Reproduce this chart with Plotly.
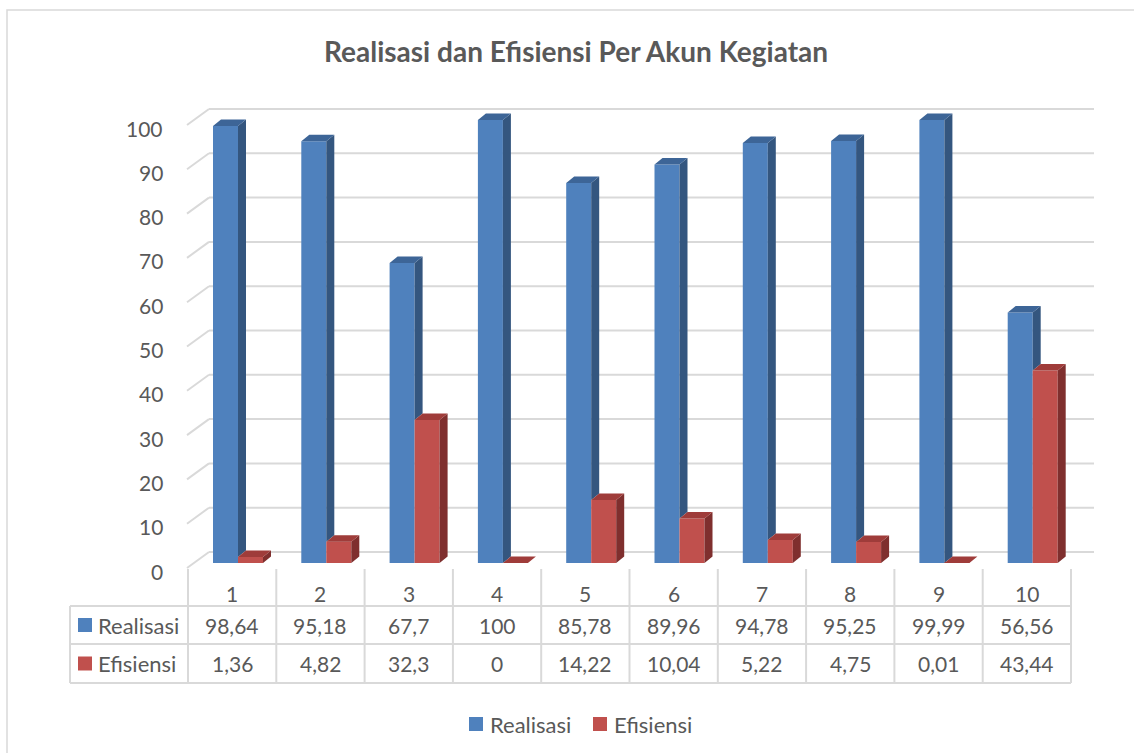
import plotly.graph_objects as go

# ---------------- data ----------------
categories = ["1", "2", "3", "4", "5", "6", "7", "8", "9", "10"]
realisasi = [98.64, 95.18, 67.7, 100, 85.78, 89.96, 94.78, 95.25, 99.99, 56.56]
efisiensi = [1.36, 4.82, 32.3, 0, 14.22, 10.04, 5.22, 4.75, 0.01, 43.44]
series_names = ["Realisasi", "Efisiensi"]
y_ticks = [0, 10, 20, 30, 40, 50, 60, 70, 80, 90, 100]
title_text = "Realisasi dan Efisiensi Per Akun Kegiatan"

# ---------------- layout constants (pixels) ----------------
W_IMG, H_IMG = 1134, 753
COL_W = 88.3      # width of one category column
COL0 = 188        # left edge of first table column
PXU = 4.43        # pixels per value unit
BASE = 563        # pixel row of value 0 at bar depth
FONT = "Lato"
TXT = "#595959"
GRID = "#d9d9d9"
NUM_SIZE = 21
LBL_SIZE = 22
TITLE_SIZE = 28

BLUE = ("#4f81bd", "#34567f", "#3d6597")   # front, side, top
RED = ("#c0504d", "#7f2f2e", "#9f3c3a")

n = len(categories)
idx = list(range(n))


def ux(px):
    """pixel x -> x data units (category index)"""
    return (px - COL0) / COL_W - 0.5


def uy(py):
    """pixel y -> value units"""
    return (BASE - py) / PXU


def PX(px):
    return px / W_IMG


def PY(py):
    return 1 - py / H_IMG


# bar geometry (in data units)
BAR_W = 25 / COL_W
BLUE_OFF = (213 - (COL0 + 0.5 * COL_W)) / COL_W
RED_OFF = BLUE_OFF + BAR_W
DX = 8 / COL_W
DY = 6.5 / PXU

fig = go.Figure()

# front faces (real bars)
for name, vals, off, col in [(series_names[0], realisasi, BLUE_OFF, BLUE),
                             (series_names[1], efisiensi, RED_OFF, RED)]:
    fig.add_trace(go.Bar(
        x=idx, y=vals, offset=off, width=BAR_W, name=name,
        marker=dict(color=col[0], line=dict(width=0)),
        showlegend=False, hoverinfo="skip"))


def poly_trace(xs, ys, color):
    return go.Scatter(x=xs, y=ys, mode="lines", fill="toself",
                      fillcolor=color, line=dict(width=0, color=color),
                      showlegend=False, hoverinfo="skip")


# blue side faces (only the part not hidden by the red bar) and top faces
bs_x, bs_y, bt_x, bt_y = [], [], [], []
rs_x, rs_y, rt_x, rt_y = [], [], [], []
for i in idx:
    vb, vr = realisasi[i], efisiensi[i]
    bx0 = i + BLUE_OFF
    bx1 = bx0 + BAR_W
    rx0 = i + RED_OFF
    rx1 = rx0 + BAR_W
    if vb > vr:
        bs_x += [bx1, bx1 + DX, bx1 + DX, bx1, bx1, None]
        bs_y += [vr, vr + DY, vb + DY, vb, vr, None]
    bt_x += [bx0, bx0 + DX, bx1 + DX, bx1, bx0, None]
    bt_y += [vb, vb + DY, vb + DY, vb, vb, None]
    rs_x += [rx1, rx1 + DX, rx1 + DX, rx1, rx1, None]
    rs_y += [0, DY, vr + DY, vr, 0, None]
    rt_x += [rx0, rx0 + DX, rx1 + DX, rx1, rx0, None]
    rt_y += [vr, vr + DY, vr + DY, vr, vr, None]

fig.add_trace(poly_trace(bs_x, bs_y, BLUE[1]))
fig.add_trace(poly_trace(bt_x, bt_y, BLUE[2]))
fig.add_trace(poly_trace(rs_x, rs_y, RED[1]))
fig.add_trace(poly_trace(rt_x, rt_y, RED[2]))

shapes = []
annotations = []

# 3-D gridlines (floor/back wall) drawn below the bars
FRONT_OFF = uy(568)     # front edge of gridline relative to tick value
BACK_OFF = uy(552)      # back wall
for t in y_ticks:
    shapes.append(dict(type="line", xref="x", yref="y", layer="below",
                       x0=ux(187), y0=t + FRONT_OFF, x1=ux(209), y1=t + BACK_OFF,
                       line=dict(color=GRID, width=2)))
    shapes.append(dict(type="line", xref="x", yref="y", layer="below",
                       x0=ux(209), y0=t + BACK_OFF, x1=ux(1094), y1=t + BACK_OFF,
                       line=dict(color=GRID, width=2)))
    annotations.append(dict(xref="paper", yref="y", x=PX(165), y=t + uy(571),
                            xanchor="right", yanchor="middle", showarrow=False,
                            text=str(t), font=dict(family=FONT, size=NUM_SIZE, color=TXT)))

# data table
T_TOP, R1, R2, T_BOT = 569, 606, 644, 683
T_LEFT = 70
T_RIGHT = COL0 + n * COL_W
for k in range(n + 1):
    xk = COL0 + k * COL_W
    shapes.append(dict(type="line", xref="paper", yref="paper",
                       x0=PX(xk), x1=PX(xk), y0=PY(T_TOP), y1=PY(T_BOT),
                       line=dict(color=GRID, width=2)))
shapes.append(dict(type="line", xref="paper", yref="paper",
                   x0=PX(T_LEFT), x1=PX(T_LEFT), y0=PY(R1), y1=PY(T_BOT),
                   line=dict(color=GRID, width=2)))
for ry in (R1, R2, T_BOT):
    shapes.append(dict(type="line", xref="paper", yref="paper",
                       x0=PX(T_LEFT), x1=PX(T_RIGHT), y0=PY(ry), y1=PY(ry),
                       line=dict(color=GRID, width=2)))


def fmt(v):
    return f"{v:g}".replace(".", ",")


row_centers = [(R1 + R2) / 2, (R2 + T_BOT) / 2]
for i in idx:
    annotations.append(dict(xref="x", yref="paper", x=i, y=PY(593),
                            xanchor="center", yanchor="middle", showarrow=False,
                            text=categories[i], font=dict(family=FONT, size=NUM_SIZE, color=TXT)))
    for vals, ry in zip((realisasi, efisiensi), row_centers):
        annotations.append(dict(xref="x", yref="paper", x=i, y=PY(ry),
                                xanchor="center", yanchor="middle", showarrow=False,
                                text=fmt(vals[i]), font=dict(family=FONT, size=NUM_SIZE, color=TXT)))

for name, col, ry in zip(series_names, (BLUE[0], RED[0]), row_centers):
    shapes.append(dict(type="rect", xref="paper", yref="paper",
                       x0=PX(78), x1=PX(92), y0=PY(ry - 7), y1=PY(ry + 7),
                       fillcolor=col, line=dict(width=0)))
    annotations.append(dict(xref="paper", yref="paper", x=PX(96), y=PY(ry),
                            xanchor="left", yanchor="middle", showarrow=False,
                            text=name, font=dict(family=FONT, size=LBL_SIZE, color=TXT)))

# legend (bottom)
for name, col, lx in zip(series_names, (BLUE[0], RED[0]), (469, 593)):
    shapes.append(dict(type="rect", xref="paper", yref="paper",
                       x0=PX(lx), x1=PX(lx + 14), y0=PY(717), y1=PY(731),
                       fillcolor=col, line=dict(width=0)))
    annotations.append(dict(xref="paper", yref="paper", x=PX(lx + 19), y=PY(724),
                            xanchor="left", yanchor="middle", showarrow=False,
                            text=name, font=dict(family=FONT, size=LBL_SIZE, color=TXT)))

# title
annotations.append(dict(xref="paper", yref="paper", x=PX(575.5), y=PY(51),
                        xanchor="center", yanchor="middle", showarrow=False,
                        text="<b>" + title_text + "</b>",
                        font=dict(family=FONT, size=TITLE_SIZE, color=TXT)))

# chart border
shapes.append(dict(type="rect", xref="paper", yref="paper",
                   x0=PX(7), x1=PX(1140), y0=PY(10), y1=PY(760),
                   line=dict(color=GRID, width=1.5), fillcolor="rgba(0,0,0,0)"))

fig.update_layout(
    width=W_IMG, height=H_IMG, autosize=False,
    margin=dict(l=0, r=0, t=0, b=0, pad=0),
    paper_bgcolor="white", plot_bgcolor="white",
    barmode="overlay", showlegend=False,
    xaxis=dict(range=[ux(0), ux(W_IMG)], visible=False, fixedrange=True, domain=[0, 1]),
    yaxis=dict(range=[uy(H_IMG), uy(0)], visible=False, fixedrange=True, domain=[0, 1]),
    shapes=shapes, annotations=annotations,
    font=dict(family=FONT, color=TXT),
)

fig.write_html("out.html", config={"displayModeBar": False})
